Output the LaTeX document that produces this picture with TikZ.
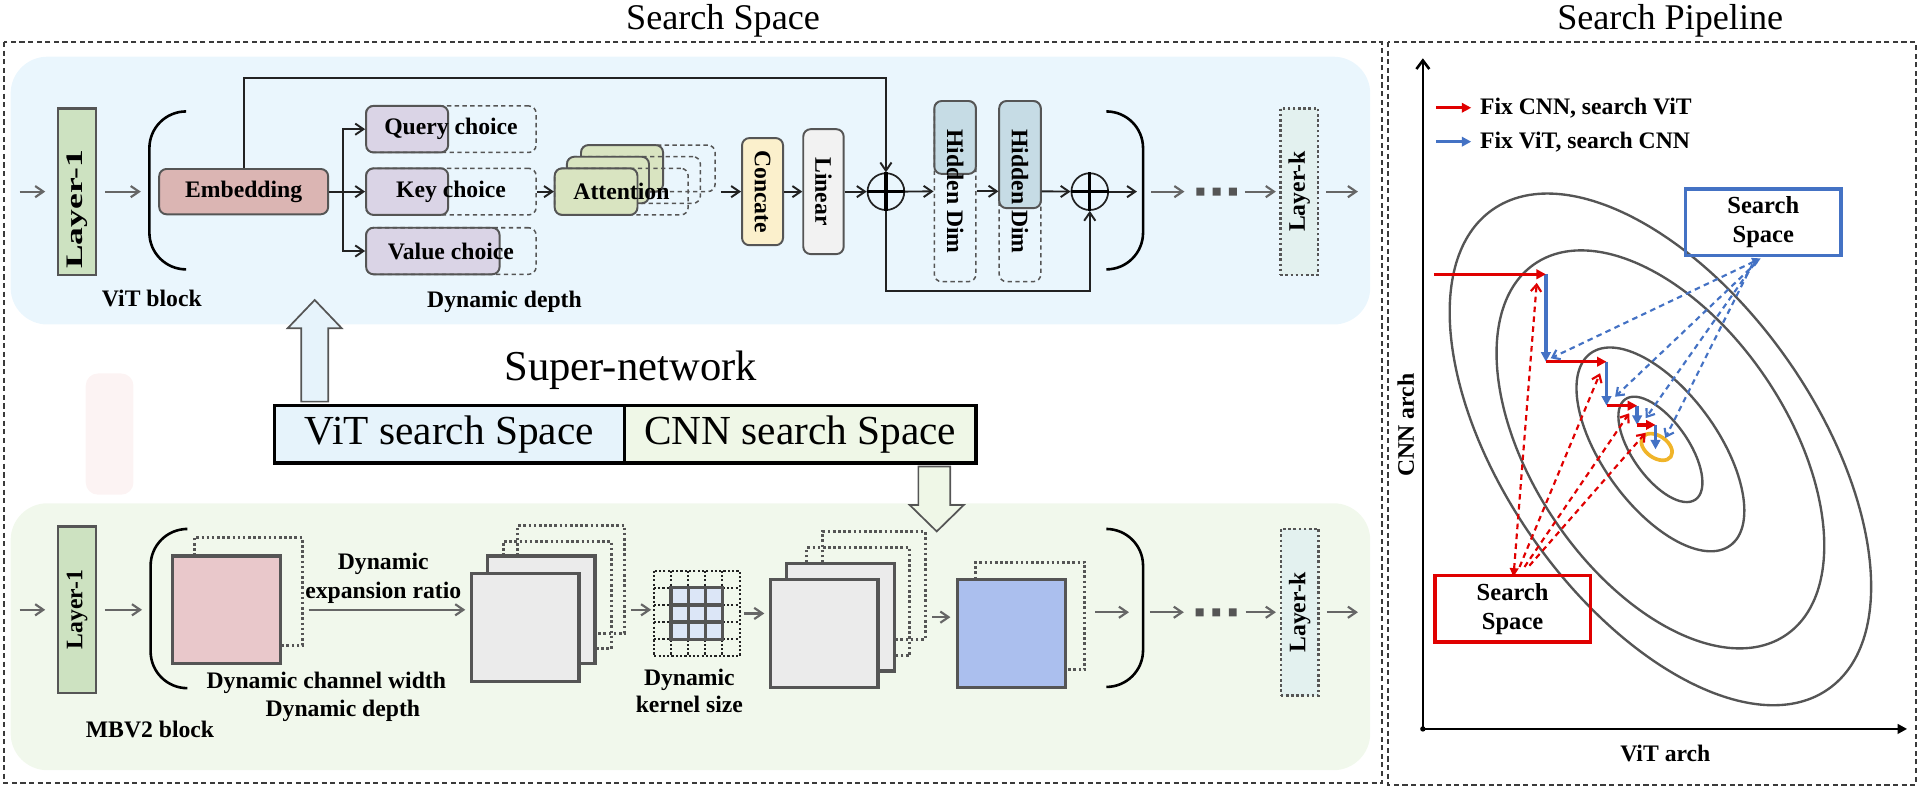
\documentclass[tikz,border=0pt]{standalone}
\usepackage{fontspec}
\setmainfont{Liberation Serif}
\usepackage{graphicx}
\usetikzlibrary{arrows.meta}
\definecolor{ss_frame}{HTML}{3A3A3A}
\definecolor{ss_dark}{HTML}{222222}
\definecolor{ss_edge}{HTML}{555555}
\definecolor{ss_arrow}{HTML}{666666}
\definecolor{ss_dots}{HTML}{555555}
\definecolor{ss_panel_top}{HTML}{EAF6FD}
\definecolor{ss_panel_bot}{HTML}{F1F8EC}
\definecolor{ss_faint}{HTML}{FCF3F3}
\definecolor{ss_layer}{HTML}{CDE2C1}
\definecolor{ss_layerk}{HTML}{E3F1EF}
\definecolor{ss_emb}{HTML}{DBB5B3}
\definecolor{ss_qkv}{HTML}{DAD4E6}
\definecolor{ss_att}{HTML}{D9E4C1}
\definecolor{ss_cat}{HTML}{FBF0CC}
\definecolor{ss_lin}{HTML}{F2F2F2}
\definecolor{ss_hid}{HTML}{C6DCE5}
\definecolor{ss_vit}{HTML}{E6F3FB}
\definecolor{ss_cnn}{HTML}{EFF7E7}
\definecolor{ss_pink}{HTML}{E9C8CB}
\definecolor{ss_sq}{HTML}{EBEBEB}
\definecolor{ss_blue}{HTML}{ABBFEE}
\definecolor{ss_kern}{HTML}{DCE6F7}
\definecolor{sp_red}{HTML}{E00000}
\definecolor{sp_blue}{HTML}{4472C4}
\definecolor{sp_gold}{HTML}{F0B429}
\definecolor{sp_contour}{HTML}{555555}

\tikzset{
    lbl/.style={font=\fontsize{5.5}{6.6}\selectfont\bfseries, inner sep=0pt, align=center},
    outerframe/.style={draw=ss_frame, line width=0.45pt, dash pattern=on 1.2pt off 0.8pt},
    flowline/.style={draw=ss_dark, line width=0.45pt},
    flowarrow/.style={flowline, -{Straight Barb[length=1.9pt, width=2.6pt]}},
    grayarrow/.style={draw=ss_arrow, line width=0.5pt, -{Straight Barb[length=1.9pt, width=2.6pt]}},
    layerbox/.style={lbl, draw=ss_edge, line width=0.6pt, fill=ss_layer, minimum width=3.1mm, minimum height=13.6mm},
    solidbox/.style={draw=ss_edge, line width=0.45pt, rounded corners=0.6mm, inner sep=0pt},
    choicebox/.style={lbl, draw=ss_edge, line width=0.35pt, dash pattern=on 1pt off 0.8pt, rounded corners=0.6mm, minimum height=3.8mm},
    featsq/.style={draw=ss_edge, line width=0.75pt, minimum size=8.8mm, inner sep=0pt},
    shadowline/.style={draw=ss_edge, line width=0.7pt, dash pattern=on 0.6pt off 0.6pt},
    griddot/.style={draw=ss_dark, line width=0.45pt, dash pattern=on 0.5pt off 0.5pt},
    bracketline/.style={draw=black, line width=0.6pt, rounded corners=3mm},
    hollowarrow/.style={draw=ss_edge, line width=0.4pt},
    spacecell/.style={draw=black, line width=0.8pt, font=\fontsize{9.6}{11}\selectfont, minimum height=4.7mm, inner sep=0pt},
    contourline/.style={draw=sp_contour, line width=0.55pt},
    axisline/.style={draw=black, line width=0.6pt},
    redstep/.style={draw=sp_red, line width=0.8pt, -{Triangle[length=2.2pt, width=2.2pt]}},
    bluestep/.style={draw=sp_blue, line width=0.8pt, -{Triangle[length=2.2pt, width=2.2pt]}},
    reddash/.style={draw=sp_red, line width=0.5pt, dash pattern=on 1.3pt off 1pt, -{Straight Barb[length=1.6pt, width=2.4pt]}},
    bluedash/.style={draw=sp_blue, line width=0.5pt, dash pattern=on 1.3pt off 1pt, -{Straight Barb[length=1.6pt, width=2.4pt]}},
    spacebox/.style={font=\fontsize{5.7}{6.8}\selectfont\bfseries, align=center, line width=0.8pt, minimum width=12.7mm, minimum height=5.45mm, inner sep=0pt}
}

\begin{document}
\begin{tikzpicture}[x=0.1mm, y=-0.1mm]
    \useasboundingbox (0,0) rectangle (1568,649);

    \node[font=\fontsize{8.4}{10}\selectfont] (t_space) at (590.5,17) {Search Space};
    \node[font=\fontsize{8.4}{10}\selectfont] (t_pipe) at (1364,17) {Search Pipeline};
    \draw[outerframe] (3.3,34.3) rectangle (1128.6,639.5);
    \draw[outerframe] (1133.5,34.3) rectangle (1564.5,641);

    \fill[ss_panel_top, rounded corners=3mm] (8.7,46.3) rectangle (1119,265);
    \fill[ss_panel_bot, rounded corners=3mm] (8.7,411) rectangle (1119,629);
    \fill[ss_faint, rounded corners=1mm] (70,305) rectangle (109,404);

    % ViT block
    \node[layerbox] (l1t) at (63,156.5) {};
    \node[lbl] (l1tx) at (63,171) {\rotatebox{90}{\scalebox{1.5}[1]{Layer-1}}};
    \coordinate (in_t) at (16,156.5);
    \coordinate (bt_l) at (122,156.5);
    \draw[grayarrow, shorten >=0.95mm] (in_t) -- (l1t);
    \draw[grayarrow, shorten <=0.65mm, shorten >=0.7mm] (l1t) -- (bt_l);
    \draw[bracketline] (152,91) -- (122,91) -- (122,220) -- (152,220);

    \node[solidbox, lbl, fill=ss_emb, minimum width=13.8mm, minimum height=3.7mm] (emb) at (199,156.5) {Embedding};

    \node[solidbox, fill=ss_qkv, minimum width=6.7mm, minimum height=3.8mm] (qs) at (332.5,105.5) {};
    \node[choicebox, minimum width=13.9mm] (qc) at (368.3,105.5) {Query choice};
    \node[solidbox, fill=ss_qkv, minimum width=6.7mm, minimum height=3.8mm] (ks) at (332.5,156.5) {};
    \node[choicebox, minimum width=13.9mm] (kc) at (368.3,156.5) {Key choice};
    \node[solidbox, fill=ss_qkv, minimum width=10.9mm, minimum height=3.8mm] (vs) at (353.5,205) {};
    \node[choicebox, minimum width=13.9mm] (vc) at (368.3,205) {Value choice};

    \coordinate (fork) at (280,156.5);
    \draw[flowarrow] (emb) -- (kc);
    \draw[flowarrow] (fork) |- (qc.west);
    \draw[flowarrow] (fork) |- (vc.west);

    \node[choicebox, minimum width=10.95mm] (ab) at (529.25,137.5) {};
    \node[solidbox, fill=ss_att, minimum width=6.7mm, minimum height=3.8mm] (abs) at (508,137.5) {};
    \node[choicebox, minimum width=10.9mm] (am) at (517.5,147) {};
    \node[solidbox, fill=ss_att, minimum width=6.7mm, minimum height=3.8mm] (ams) at (496.5,147) {};
    \node[solidbox, fill=ss_att, minimum width=6.76mm, minimum height=3.8mm] (afs) at (486.8,156.5) {};
    \node[choicebox, minimum width=10.9mm] (af) at (507.5,156.5) {Attention};
    \draw[flowarrow] (kc) -- (af);

    \node[solidbox, lbl, fill=ss_cat, minimum width=3.35mm, minimum height=8.75mm] (cc) at (622.75,156.5) {\rotatebox{-90}{Concate}};
    \node[solidbox, lbl, fill=ss_lin, minimum width=3.3mm, minimum height=10.2mm] (ln) at (672.5,156.5) {\rotatebox{-90}{Linear}};
    \node[circle, draw=ss_dark, line width=0.4pt, minimum size=3mm, inner sep=0pt] (pl1) at (723.5,156.5) {};
    \draw[line width=0.75pt] (pl1.north) -- (pl1.south) (pl1.west) -- (pl1.east);

    \node[solidbox, fill=ss_hid, minimum width=3.4mm, minimum height=5.95mm] (h1s) at (780,112.25) {};
    \node[choicebox, minimum width=3.4mm, minimum height=14.75mm] (h1) at (780,156.25) {\rotatebox{-90}{Hidden Dim}};
    \node[solidbox, fill=ss_hid, minimum width=3.4mm, minimum height=8.75mm] (h2s) at (833,126.25) {};
    \node[choicebox, minimum width=3.4mm, minimum height=14.75mm] (h2) at (833,156.25) {\rotatebox{-90}{Hidden Dim}};
    \node[circle, draw=ss_dark, line width=0.4pt, minimum size=3mm, inner sep=0pt] (pl2) at (890,156.5) {};
    \draw[line width=0.75pt] (pl2.north) -- (pl2.south) (pl2.west) -- (pl2.east);

    \draw[flowarrow, shorten <=2.6mm] (af) -- (cc);
    \draw[flowarrow] (cc) -- (ln);
    \draw[flowarrow] (ln) -- (pl1);
    \draw[flowarrow] (pl1) -- (h1);
    \draw[flowarrow] (h1) -- (h2);
    \draw[flowarrow] (h2) -- (pl2);
    \coordinate (skip_t) at (723.5,64);
    \coordinate (skip_b) at (723.5,237.6);
    \draw[flowarrow] (emb.north) |- (skip_t) -- (pl1.north);
    \draw[flowarrow] (pl1.south) -- (skip_b) -| (pl2.south);

    \draw[bracketline] (905,91) -- (933.5,91) -- (933.5,220) -- (905,220);
    \coordinate (bt_r) at (933.5,156.5);
    \draw[flowarrow, shorten >=0.5mm] (pl2) -- (bt_r);
    \node[minimum width=3.3mm, minimum height=0.65mm, inner sep=0pt] (dtt) at (993.5,156.5) {};
    \fill[ss_dots] (977,153.2) rectangle (983.5,159.7) (990.3,153.2) rectangle (996.8,159.7) (1003.6,153.2) rectangle (1010.1,159.7);
    \draw[grayarrow, shorten <=0.65mm, shorten >=0.9mm] (bt_r) -- (dtt);
    \node[layerbox, fill=ss_layerk, draw=ss_dots, dash pattern=on 0.6pt off 0.6pt] (lkt) at (1061,156.5) {\rotatebox{90}{Layer-k}};
    \coordinate (out_t) at (1109,156.5);
    \draw[grayarrow, shorten <=0.6mm, shorten >=0.25mm] (dtt) -- (lkt);
    \draw[grayarrow, shorten <=0.55mm] (lkt) -- (out_t);

    \node[lbl] (vitblk) at (124,243.5) {ViT block};
    \node[lbl] (ddt) at (412,246.5) {Dynamic depth};

    % super-network
    \node[font=\fontsize{9.9}{11}\selectfont] (snet) at (515,302) {Super-network};
    \node[spacecell, fill=ss_vit, minimum width=28.6mm] (vss) at (367,354.5) {ViT search Space};
    \node[spacecell, fill=ss_cnn, minimum width=28.7mm] (css) at (653.5,354.5) {CNN search Space};
    \draw[hollowarrow, fill=ss_vit] (246,328) -- (246,268) -- (235,268) -- (257,245) -- (279,268) -- (268,268) -- (268,328) -- cycle;
    \draw[hollowarrow, fill=ss_cnn] (750,381) -- (750,412.5) -- (743,412.5) -- (765,434) -- (787,412.5) -- (776,412.5) -- (776,381) -- cycle;

    % MBV2 block
    \node[layerbox] (l1b) at (63,498) {\rotatebox{90}{Layer-1}};
    \coordinate (in_b) at (16,498);
    \coordinate (bb_l) at (123,498);
    \draw[grayarrow, shorten >=0.95mm] (in_b) -- (l1b);
    \draw[grayarrow, shorten <=0.6mm, shorten >=0.7mm] (l1b) -- (bb_l);
    \draw[bracketline] (151,432) -- (123,432) -- (123,562) -- (151,562);

    \draw[shadowline] (158.5,454) |- (247,439) |- (229,527);
    \node[featsq, fill=ss_pink] (pk) at (185,498) {};
    \node[lbl, font=\fontsize{5.5}{6.8}\selectfont\bfseries] (expr) at (313,472.5) {Dynamic\\expansion ratio};
    \node[lbl] (dcw) at (266.5,558) {Dynamic channel width};
    \node[lbl] (ddb) at (280,580.5) {Dynamic depth};
    \node[lbl] (mbv) at (122.5,596) {MBV2 block};

    \draw[shadowline] (423,454) |- (510,429) |- (486,517);
    \draw[shadowline] (411,454) |- (499,442) |- (486,530);
    \node[featsq, fill=ss_sq] (s1b) at (442,498) {};
    \node[featsq, fill=ss_sq] (s1f) at (428.8,512.5) {};
    \coordinate (ex_a) at (252,498);
    \draw[grayarrow, shorten >=0.35mm] (ex_a) -- (s1f.west |- ex_a);

    \node[minimum size=7mm, inner sep=0pt] (kg) at (569,501) {};
    \draw[griddot] (534,466) rectangle (604,536) (548,466) -- (548,536) (562,466) -- (562,536) (576,466) -- (576,536) (590,466) -- (590,536) (534,480) -- (604,480) (534,494) -- (604,494) (534,508) -- (604,508) (534,522) -- (604,522);
    \draw[draw=ss_edge, line width=0.75pt, fill=ss_kern] (548,480) rectangle (590,522);
    \draw[draw=ss_edge, line width=0.75pt] (562,480) -- (562,522) (576,480) -- (576,522) (548,494) -- (590,494) (548,508) -- (590,508);
    \node[lbl, font=\fontsize{5.5}{6.3}\selectfont\bfseries] (kl) at (563,564) {Dynamic\\kernel size};
    \draw[grayarrow, shorten <=2.8mm, shorten >=0.15mm] (s1b.east) -- (kg.west |- s1b.east);

    \draw[shadowline] (672,459.5) |- (755.5,434) |- (730.5,522);
    \draw[shadowline] (659,459.5) |- (743,447.3) |- (730.5,535.7);
    \node[featsq, fill=ss_sq] (s2b) at (686.5,504) {};
    \node[featsq, fill=ss_sq] (s2f) at (673,517.5) {};
    \draw[grayarrow, shorten <=0.3mm, shorten >=0.35mm] (kg.east) -- (s2f.west |- kg.east);

    \draw[shadowline] (797,473) |- (886,459) |- (870,547);
    \node[featsq, fill=ss_blue] (bl) at (826,517.5) {};
    \draw[grayarrow, shorten <=2.95mm, shorten >=0.45mm] (s2b.east) -- (bl.west |- s2b.east);

    \draw[bracketline] (905,432) -- (933.5,432) -- (933.5,561) -- (905,561);
    \coordinate (bb_r) at (933.5,500);
    \draw[grayarrow, shorten <=2.3mm, shorten >=1.15mm] (bl.east |- bb_r) -- (bb_r);
    \node[minimum width=3.4mm, minimum height=0.65mm, inner sep=0pt] (dtb) at (993,500) {};
    \fill[ss_dots] (976.5,496.8) rectangle (983,503.3) (990,496.8) rectangle (996.5,503.3) (1003.5,496.8) rectangle (1010,503.3);
    \draw[grayarrow, shorten <=0.55mm, shorten >=0.85mm] (bb_r) -- (dtb);
    \node[layerbox, fill=ss_layerk, draw=ss_dots, dash pattern=on 0.6pt off 0.6pt] (lkb) at (1061.5,500) {\rotatebox{90}{Layer-k}};
    \coordinate (out_b) at (1109,500);
    \draw[grayarrow, shorten <=0.65mm, shorten >=0.3mm] (dtb) -- (lkb);
    \draw[grayarrow, shorten <=0.55mm] (lkb) -- (out_b);

    % search pipeline
    \coordinate (org) at (1162,595.3);
    \coordinate (ytop) at (1162,47.6);
    \coordinate (xend) at (1557.5,595.3);
    \draw[axisline, -{Straight Barb[length=2pt, width=3pt]}] (org) -- (ytop);
    \draw[axisline, -{Triangle[length=2.2pt, width=2.2pt]}] (org) -- (xend);
    \fill (org) circle (2.2);
    \node[lbl] (xlab) at (1360,615) {ViT arch};
    \node[lbl, rotate=90] (ylab) at (1148,347) {CNN arch};

    \coordinate (lg1) at (1173,88);
    \coordinate (lg2) at (1173,115.7);
    \node[lbl, anchor=west] (lgt1) at (1208,88) {Fix CNN, search ViT};
    \node[lbl, anchor=west] (lgt2) at (1208,115.7) {Fix ViT, search CNN};
    \draw[redstep, line width=0.6pt, shorten >=0.65mm] (lg1) -- (lgt1.west);
    \draw[bluestep, line width=0.6pt, shorten >=0.65mm] (lg2) -- (lgt2.west);

    \coordinate (ctr) at (1356,367);
    \draw[contourline, rotate around={-55:(ctr)}] (ctr) ellipse (239 and 127);
    \draw[contourline, rotate around={-56:(ctr)}] (ctr) ellipse (183 and 104);
    \draw[contourline, rotate around={-54:(ctr)}] (ctr) ellipse (97 and 47);
    \draw[contourline, rotate around={-55:(ctr)}] (ctr) ellipse (50 and 23);

    \node[spacebox, draw=sp_blue] (sbs) at (1440,181.5) {Search\\Space};
    \node[spacebox, draw=sp_red] (srs) at (1235.3,497.2) {Search\\Space};

    \coordinate (opt) at (1353,365);
    \draw[sp_gold, line width=0.85pt, rotate around={-35:(opt)}] (opt) ellipse (14 and 9);

    \coordinate (s0) at (1171,224);
    \coordinate (s1) at (1262.5,224);
    \coordinate (s2) at (1262.5,295.4);
    \coordinate (s3) at (1312,295.4);
    \coordinate (s4) at (1312,331.3);
    \coordinate (s5) at (1337,331.3);
    \coordinate (s6) at (1337,347);
    \coordinate (s7) at (1352,347);
    \coordinate (s8) at (1352,367);
    \draw[bluestep] (s1) -- (s2);
    \draw[bluestep] (s3) -- (s4);
    \draw[bluestep] (s5) -- (s6);
    \draw[bluestep] (s7) -- (s8);
    \draw[redstep] (s0) -- (s1);
    \draw[redstep] (s2) -- (s3);
    \draw[redstep] (s4) -- (s5);
    \draw[redstep] (s6) -- (s7);

    \coordinate (rs1) at (1236,471);
    \coordinate (rs2) at (1241,463);
    \coordinate (rs3) at (1245,463);
    \coordinate (rs4) at (1249,462);
    \coordinate (rt1) at (1255,231);
    \coordinate (rt2) at (1306.7,304.8);
    \coordinate (rt3) at (1330.5,337.5);
    \coordinate (rt4) at (1344,353.4);
    \draw[reddash, {Triangle[length=2pt, width=2pt]}-{Straight Barb[length=1.6pt, width=2.4pt]}] (rs1) -- (rt1);
    \draw[reddash] (rs2) -- (rt2);
    \draw[reddash] (rs3) -- (rt3);
    \draw[reddash] (rs4) -- (rt4);

    \coordinate (bs1) at (1438,211);
    \coordinate (bs2) at (1435,214);
    \coordinate (bs3) at (1433,215);
    \coordinate (bs4) at (1431,216);
    \coordinate (bt1) at (1266.4,292.6);
    \coordinate (bt2) at (1319,324);
    \coordinate (bt3) at (1344,341.5);
    \coordinate (bt4) at (1360,357.7);
    \draw[bluedash, {Triangle[length=2pt, width=2pt]}-{Straight Barb[length=1.6pt, width=2.4pt]}] (bs1) -- (bt1);
    \draw[bluedash] (bs2) -- (bt2);
    \draw[bluedash] (bs3) -- (bt3);
    \draw[bluedash] (bs4) -- (bt4);
\end{tikzpicture}
\end{document}
